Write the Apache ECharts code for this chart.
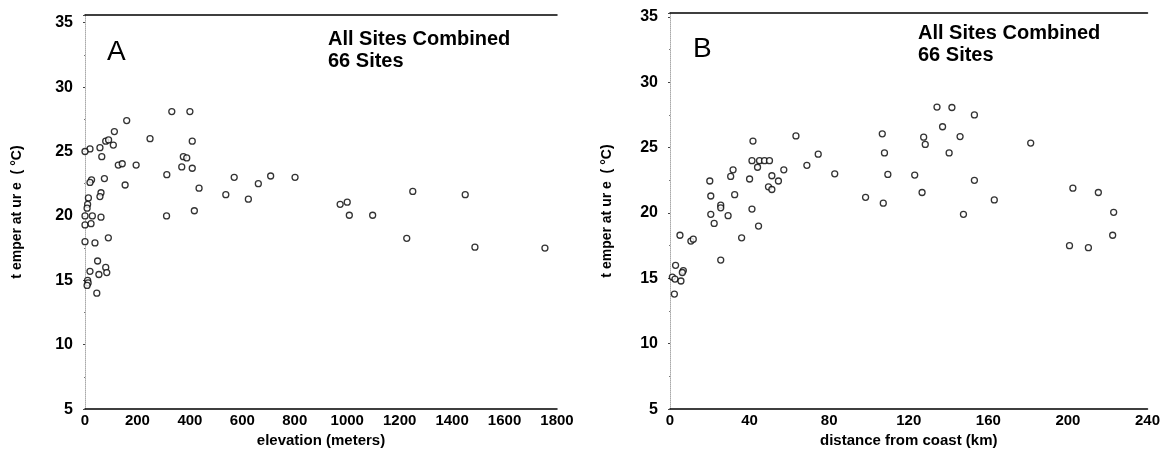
<!DOCTYPE html>
<html>
<head>
<meta charset="utf-8">
<script src="https://cdn.jsdelivr.net/npm/echarts@6/dist/echarts.min.js"></script>
<style>
  html, body { margin: 0; padding: 0; background: #fff; }
  #chart { width: 1163px; height: 453px; }
</style>
</head>
<body>
<div id="chart"></div>
<script>
// Panel A: site elevation (m) vs temperature (°C)
const elevationM = [331, 400, 159, 112, 79, 90, 108, 57, 19, 0, 248, 409, 64, 375, 388, 127, 142, 195, 369, 409,
  312, 569, 74, 25, 19, 153, 435, 537, 61, 57, 13, 10, 8, 0, 28, 61, 311, 417, 0, 23,
  0, 38, 89, 48, 79, 83, 53, 19, 10, 12, 8, 45, 661, 708, 801, 623, 973, 1000, 1008, 1097,
  1250, 1450, 1227, 1487, 1754];
const tempByElevation = [28.1, 28.1, 27.4, 26.55, 25.8, 25.9, 25.5, 25.3, 25.2, 25.0, 26.0, 25.8, 24.6, 24.6, 24.5, 23.95, 24.05, 23.95, 23.8, 23.7,
  23.2, 23.0, 22.9, 22.8, 22.6, 22.4, 22.15, 21.65, 21.8, 21.5, 21.4, 20.9, 20.6, 20.0, 20.0, 19.9, 20.0, 20.4, 19.3, 19.4,
  18.0, 17.9, 18.3, 16.5, 16.0, 15.6, 15.45, 15.7, 15.0, 14.8, 14.6, 14.0, 22.5, 23.1, 23.0, 21.3, 20.9, 21.07, 20.05, 20.05,
  21.9, 21.65, 18.26, 17.57, 17.5];

// Panel B: distance from coast (km) vs temperature (°C)
const distanceKm = [63.3, 41.7, 41.2, 45, 47.5, 50, 44, 74.5, 68.8, 82.8, 57.2, 51.2, 54.5, 49.5, 51.2, 31.7, 30.5, 40, 20, 32.5,
  20.5, 25.5, 25.5, 41.2, 20.5, 29.2, 22.2, 44.5, 36, 5, 10.5, 11.7, 25.5, 2.8, 6.7, 1.2, 2.5, 5.5, 6.2, 2.2,
  106.7, 107.8, 109.5, 98.3, 107.2, 134.2, 141.7, 153, 137, 145.8, 127.5, 128.3, 140.3, 181.3, 123, 126.7, 153, 163, 147.5, 202.5,
  215.3, 223, 222.5, 200.8, 210.3];
const tempByDistance = [25.9, 25.5, 24.0, 24.0, 24.0, 24.0, 23.5, 24.5, 23.65, 23.0, 23.3, 22.85, 22.45, 22.0, 21.8, 23.3, 22.8, 22.6, 22.45, 21.4,
  21.3, 20.6, 20.4, 20.3, 19.9, 19.8, 19.2, 19.0, 18.1, 18.3, 17.85, 18.0, 16.4, 16.0, 15.6, 15.1, 14.95, 14.8, 15.45, 13.8,
  26.06, 24.6, 22.95, 21.2, 20.75, 28.1, 28.07, 27.5, 26.6, 25.85, 25.8, 25.25, 24.6, 25.35, 22.9, 21.57, 22.5, 21.0, 19.9, 21.9,
  21.57, 20.05, 18.3, 17.5, 17.35];

const yTicks = [5, 10, 15, 20, 25, 30, 35];
const xTicksA = [0, 200, 400, 600, 800, 1000, 1200, 1400, 1600, 1800];
const xTicksB = [0, 40, 80, 120, 160, 200, 240];

const FONT = '"Liberation Sans", Arial, sans-serif';
const yName = 't emper at ur e  ( °C)';

function pairs(xs, ys) { return xs.map((x, i) => [x, ys[i]]); }

function yAxisFor(gridIndex, maxVal, gap) {
  return {
    gridIndex, type: 'value', min: yTicks[0], max: maxVal, interval: yTicks[1] - yTicks[0],
    name: yName, nameLocation: 'middle', nameGap: gap,
    nameTextStyle: { fontFamily: FONT, fontWeight: 'bold', fontSize: 14, color: '#000' },
    axisLine: { show: true, lineStyle: { color: '#aaa', width: 1, type: 'dotted' } },
    axisTick: { show: true, length: 2, lineStyle: { color: '#444' } },
    minorTick: { show: true, splitNumber: 2, length: 1, lineStyle: { color: '#777' } },
    splitLine: { show: false },
    axisLabel: {
      fontFamily: FONT, fontWeight: 'bold', fontSize: 16, color: '#000', margin: 12,
      formatter: v => (yTicks.includes(v) ? String(v) : '')
    }
  };
}

function xAxisFor(gridIndex, ticks, name) {
  return {
    gridIndex, type: 'value', min: ticks[0], max: ticks[ticks.length - 1], interval: ticks[1] - ticks[0],
    name, nameLocation: 'middle', nameGap: 20,
    nameTextStyle: { fontFamily: FONT, fontWeight: 'bold', fontSize: 15, color: '#000' },
    axisLine: { show: true, onZero: false, lineStyle: { color: '#000', width: 1.5 } },
    axisTick: { show: false },
    splitLine: { show: false },
    axisLabel: { fontFamily: FONT, fontWeight: 'bold', fontSize: 15, color: '#000', margin: 4, formatter: v => String(v) }
  };
}

function topFrame(gridIndex, ticks) {
  return {
    gridIndex, type: 'value', position: 'top', min: ticks[0], max: ticks[ticks.length - 1],
    axisLine: { show: true, onZero: false, lineStyle: { color: '#000', width: 1.5 } },
    axisTick: { show: false }, axisLabel: { show: false }, splitLine: { show: false }
  };
}

const markerStyle = { color: '#fff', borderColor: '#000', borderWidth: 1.3 };

const chart = echarts.init(document.getElementById('chart'), null, { renderer: 'canvas' });
chart.setOption({
  backgroundColor: '#fff',
  animation: false,
  grid: [
    { left: 85, top: 15, width: 472, height: 400 },
    { left: 670, top: 13, width: 480, height: 400 }
  ],
  xAxis: [
    xAxisFor(0, xTicksA, 'elevation (meters)'),
    xAxisFor(1, xTicksB, 'distance from coast (km)'),
    topFrame(0, xTicksA),
    topFrame(1, xTicksB)
  ],
  yAxis: [
    yAxisFor(0, 35.6, 61),
    yAxisFor(1, 35.3, 56)
  ],
  series: [
    {
      type: 'scatter', xAxisIndex: 0, yAxisIndex: 0, symbol: 'circle', symbolSize: 6,
      itemStyle: markerStyle, data: pairs(elevationM, tempByElevation)
    },
    {
      type: 'scatter', xAxisIndex: 1, yAxisIndex: 1, symbol: 'circle', symbolSize: 6,
      itemStyle: markerStyle, data: pairs(distanceKm, tempByDistance)
    }
  ],
  graphic: [
    { type: 'text', left: 107, top: 38, style: { text: 'A', font: '28px ' + FONT, fill: '#000' } },
    { type: 'text', left: 693, top: 35, style: { text: 'B', font: '28px ' + FONT, fill: '#000' } },
    { type: 'text', left: 328, top: 28, style: { text: 'All Sites Combined\n66 Sites', font: 'bold 20px ' + FONT, lineHeight: 22, fill: '#000' } },
    { type: 'text', left: 918, top: 22, style: { text: 'All Sites Combined\n66 Sites', font: 'bold 20px ' + FONT, lineHeight: 22, fill: '#000' } }
  ]
});
</script>
</body>
</html>
